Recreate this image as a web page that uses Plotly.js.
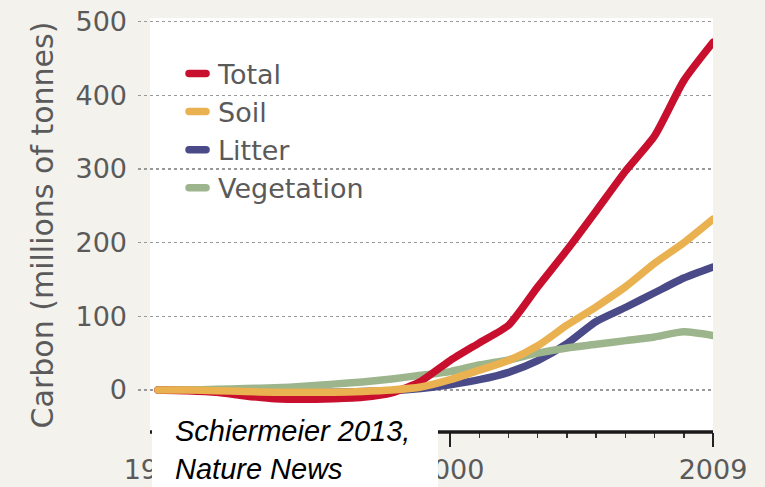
<!DOCTYPE html>
<html>
<head>
<meta charset="utf-8">
<script src="https://cdn.plot.ly/plotly-3.0.1.min.js"></script>
<style>
html,body{margin:0;padding:0;background:#f4f2ed;}
path.js-line{stroke-linecap:round;}
.legendlines path.js-line{d:path("M11,0h17");}
</style>
</head>
<body>
<div id="chart" style="width:765px;height:487px;"></div>
<script>
const years = [1990,1991,1992,1993,1994,1995,1996,1997,1998,1999,2000,2001,2002,2003,2004,2005,2006,2007,2008,2009];
const total = [0,-1,-3,-8,-12,-13,-12,-10,-4,12,40,64,88,140,190,243,297,345,420,472];
const soil = [0,0,-1,-2,-3,-3,-3,-2,0,4,14,27,40,60,88,113,140,172,200,232];
const litter = [0,0,-1,-2,-3,-3,-3,-2,-1,2,7,14,24,40,63,93,112,132,152,167];
const vegetation = [0,0,1,2,3,5,8,11,15,20,25,34,41,50,57,62,67,72,79,74];
const yTicks = [0,100,200,300,400,500];
const xTicks = [1990,2000,2009];
const xTickText = ['1990','2000','2009'];

const font = 'DejaVu Sans, Liberation Sans, sans-serif';
const grey = '#5a5a5a';

function tr(name, y, color, rank) {
  return {x: years, y: y, name: name, type: 'scatter', mode: 'lines',
    line: {color: color, width: 7.5, shape: 'spline', smoothing: 0.6},
    legendrank: rank, hoverinfo: 'skip'};
}
const data = [
  tr('Litter', litter, '#4b4a88', 3),
  tr('Vegetation', vegetation, '#9db58c', 4),
  tr('Total', total, '#c8102e', 1),
  tr('Soil', soil, '#e9b150', 2)
];

const layout = {
  width: 765, height: 487,
  margin: {l: 138, r: 52, t: 18, b: 55},
  paper_bgcolor: '#f4f2ed',
  plot_bgcolor: '#f4f2ed',
  font: {family: font, color: grey},
  showlegend: true,
  legend: {x: 0.0696, y: 0.924, xanchor: 'left', yanchor: 'top',
    bgcolor: 'rgba(0,0,0,0)', font: {family: font, size: 27, color: grey},
    itemwidth: 30, tracegroupgap: 0},
  xaxis: {range: [1989.315, 2009], tickmode: 'array', tickvals: xTicks, ticktext: xTickText,
    ticks: 'outside', ticklen: 14, tickwidth: 2, tickcolor: '#222',
    minor: {tickmode: 'linear', tick0: 1990, dtick: 1, ticks: 'outside', ticklen: 5, tickwidth: 1.5, tickcolor: '#333'},
    showgrid: false, zeroline: false, showline: false,
    tickfont: {family: font, size: 27, color: grey}, fixedrange: true},
  yaxis: {range: [-57, 505], tickmode: 'array', tickvals: yTicks,
    showgrid: true, gridcolor: '#999999', griddash: 'dot', gridwidth: 1.5,
    zeroline: false, showline: false, ticks: '', ticklabelstandoff: 10,
    tickfont: {family: font, size: 27, color: grey},
    title: {text: 'Carbon (millions of tonnes)', font: {family: font, size: 30, color: grey}, standoff: 12},
    fixedrange: true},
  shapes: [
    {type: 'rect', layer: 'below', xref: 'paper', yref: 'paper', x0: 0.0209, x1: 1, y0: 0, y1: 1,
      fillcolor: '#ffffff', line: {width: 0}},
    {type: 'line', layer: 'above', xref: 'paper', yref: 'paper', x0: 0.0209, x1: 1, y0: 0, y1: 0,
      line: {color: '#1a1a1a', width: 3.5}},
    {type: 'rect', layer: 'above', xref: 'paper', yref: 'paper', x0: 0.0243, x1: 0.5217, y0: -0.2, y1: 0.070,
      fillcolor: '#ffffff', line: {width: 0}}
  ],
  annotations: [
    {xref: 'paper', yref: 'paper', x: 0.0609, y: -0.0435, xanchor: 'left', yanchor: 'middle', align: 'left',
      showarrow: false, text: '<i>Schiermeier 2013,<br>Nature News</i>',
      font: {family: 'Liberation Sans, Arial, sans-serif', size: 29, color: '#000000'}}
  ]
};

Plotly.newPlot('chart', data, layout, {displayModeBar: false, staticPlot: true});
</script>
</body>
</html>
